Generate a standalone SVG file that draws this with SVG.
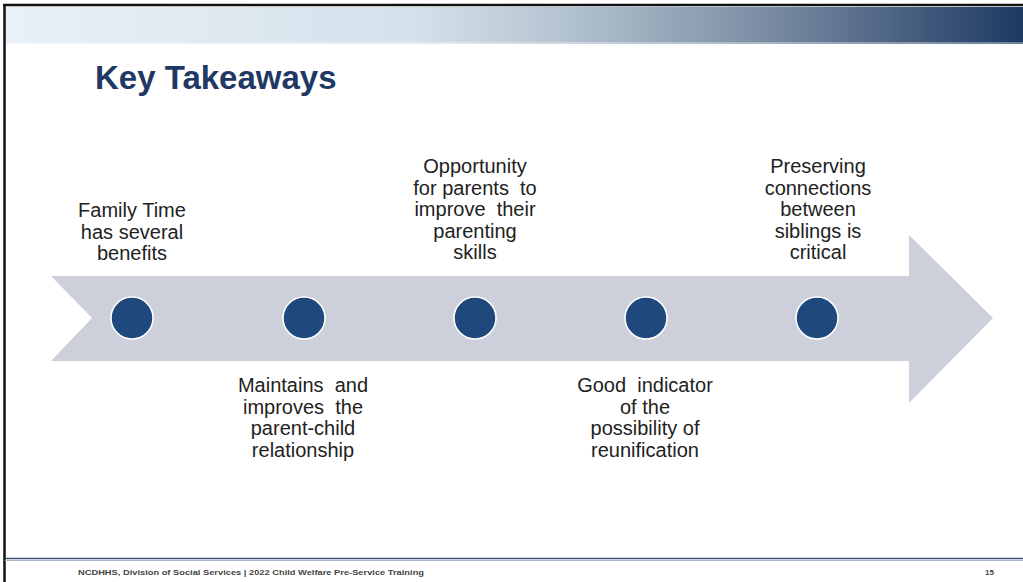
<svg xmlns="http://www.w3.org/2000/svg" width="1023" height="582" viewBox="0 0 1023 582">
<defs>
<linearGradient id="band" x1="0" y1="0" x2="1" y2="0">
<stop offset="0" stop-color="#E9F0F7"/>
<stop offset="0.4" stop-color="#D4E2EB"/>
<stop offset="0.55" stop-color="#B4C3D0"/>
<stop offset="0.75" stop-color="#7A8CA3"/>
<stop offset="1" stop-color="#1D3A62"/>
</linearGradient>
<style>
.t{font-family:"Liberation Sans",Arial,sans-serif;font-size:20px;fill:#222;text-anchor:middle;white-space:pre}
.dot{fill:#1F497D;stroke:#FFFFFF;stroke-width:1.5}
.ft{font-family:"Liberation Sans",Arial,sans-serif;font-size:8px;font-weight:bold;fill:#444}
</style>
</defs>
<rect width="1023" height="582" fill="#FFFFFF"/>
<rect x="5" y="7" width="1018" height="37" fill="url(#band)"/>
<rect x="5" y="42" width="1018" height="2" fill="#FFFFFF" opacity="0.35"/>
<line x1="3" y1="5" x2="1023" y2="5" stroke="#111" stroke-width="2.5"/>
<line x1="4.5" y1="4" x2="4.5" y2="582" stroke="#111" stroke-width="2.5"/>
<text x="95" y="89" font-family="Liberation Sans,Arial,sans-serif" font-size="33" font-weight="bold" fill="#1F3864">Key Takeaways</text>
<g id="arrow">
<polygon points="51,276 909,276 909,235 993,318 909,403 909,361 51,361 92,318" fill="#CDD0DA"/>
</g>
<g id="node1">
<circle class="dot" cx="132" cy="318" r="21"/>
<text class="t"><tspan x="132" y="217">Family Time</tspan><tspan x="132" y="238.5">has several</tspan><tspan x="132" y="260">benefits</tspan></text>
</g>
<g id="node2">
<circle class="dot" cx="304" cy="318" r="21"/>
<text class="t"><tspan x="303" y="392">Maintains  and</tspan><tspan x="303" y="413.5">improves  the</tspan><tspan x="303" y="435">parent-child</tspan><tspan x="303" y="456.5">relationship</tspan></text>
</g>
<g id="node3">
<circle class="dot" cx="475" cy="318" r="21"/>
<text class="t"><tspan x="475" y="173">Opportunity</tspan><tspan x="475" y="194.5">for parents  to</tspan><tspan x="475" y="216">improve  their</tspan><tspan x="475" y="237.5">parenting</tspan><tspan x="475" y="259">skills</tspan></text>
</g>
<g id="node4">
<circle class="dot" cx="646" cy="318" r="21"/>
<text class="t"><tspan x="645" y="392">Good  indicator</tspan><tspan x="645" y="413.5">of the</tspan><tspan x="645" y="435">possibility of</tspan><tspan x="645" y="456.5">reunification</tspan></text>
</g>
<g id="node5">
<circle class="dot" cx="817" cy="318" r="21"/>
<text class="t"><tspan x="818" y="173">Preserving</tspan><tspan x="818" y="194.5">connections</tspan><tspan x="818" y="216">between</tspan><tspan x="818" y="237.5">siblings is</tspan><tspan x="818" y="259">critical</tspan></text>
</g>
<line x1="5" y1="558.5" x2="1023" y2="558.5" stroke="#3B5273" stroke-width="1.5"/>
<line x1="5" y1="560.5" x2="1023" y2="560.5" stroke="#A8B6C8" stroke-width="1"/>
<text class="ft" x="78" y="575" textLength="346" lengthAdjust="spacingAndGlyphs">NCDHHS, Division of Social  Services | 2022 Child Welfare Pre-Service Training</text>
<text class="ft" x="985" y="575">15</text>
</svg>
